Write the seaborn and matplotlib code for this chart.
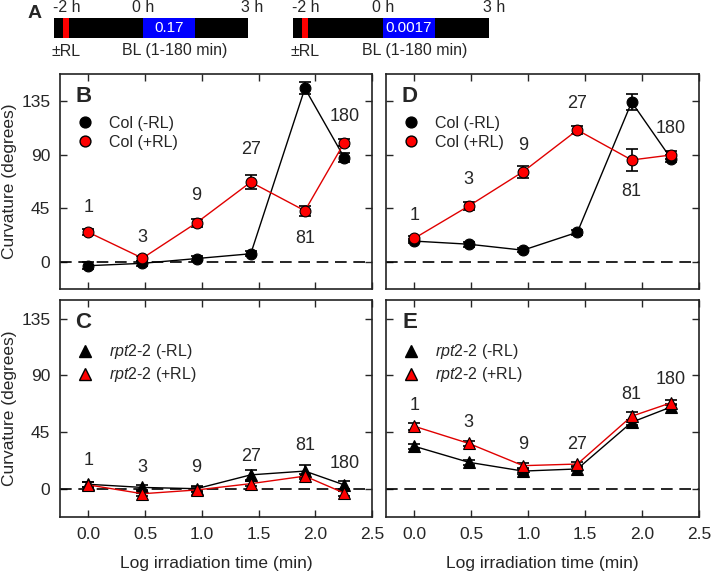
import numpy as np
import matplotlib
matplotlib.use('Agg')
import matplotlib.pyplot as plt
import seaborn as sns
from matplotlib.lines import Line2D

sns.set_style('ticks')
plt.rcParams['font.family'] = ['Liberation Sans', 'DejaVu Sans']
plt.rcParams['mathtext.fontset'] = 'custom'
plt.rcParams['mathtext.it'] = 'Liberation Sans:italic'
plt.rcParams['mathtext.rm'] = 'Liberation Sans'

# irradiation times (min) and log10 positions
minutes = ['1', '3', '9', '27', '81', '180']
log_t = np.log10([1, 3, 9, 27, 81, 180])

# Panel B: Col, 0.17 fluence
b_minus = [-3, -1, 3, 7, 145.5, 87.5]
b_minus_err = [3, 2, 2, 2, 5, 4]
b_plus = [25, 3.3, 33, 67, 43, 100]
b_plus_err = [2.5, 2, 3.5, 6, 4, 3]
b_lab_y = [46, 21, 56, 94, 20, 122]

# Panel D: Col, 0.0017 fluence
d_minus = [17.6, 15, 10, 25, 134, 86.5]
d_minus_err = [2, 2, 1.5, 2, 7, 3]
d_plus = [20, 47, 75.7, 110.6, 85.5, 89.7]
d_plus_err = [2, 3, 5, 3.5, 9, 3]
d_lab_y = [39, 69, 98, 133, 59.5, 112]

# Panel C: rpt2-2, 0.17 fluence
c_minus = [3.5, 1, 0, 11, 14, 3]
c_minus_err = [2, 2, 2, 4, 5, 3]
c_plus = [3, -4, -1, 4, 10, -3.5]
c_plus_err = [2, 2, 2, 2, 2, 2]
c_lab_y = [22.3, 17, 17, 25.5, 34, 20]

# Panel E: rpt2-2, 0.0017 fluence
e_minus = [33.7, 21, 14, 15.7, 52.8, 65]
e_minus_err = [2, 2, 2, 2, 2, 2]
e_plus = [49.6, 36, 18.3, 19.6, 57.6, 68.3]
e_plus_err = [3, 2, 2, 2, 3, 2]
e_lab_y = [66, 53, 35.5, 35.5, 75, 87]

# timeline (hours)
bar_span = (-2.32, 2.74)
rl_span = (-2.08, -1.92)
bl_span = (0.0, 1.35)
fluence = ['0.17', '0.0017']

W, H = 711, 573
fig = plt.figure(figsize=(W / 100, H / 100), dpi=100)


def px_axes(left, top, right, bottom):
    return fig.add_axes([left / W, 1 - bottom / H, (right - left) / W, (bottom - top) / H])


RED = '#ff0000'


def draw_panel(ax, minus, minus_err, plus, plus_err, lab_y, marker, names, letter,
               ylim, show_y, show_x):
    ax.axhline(0, color='black', lw=1.2, ls=(0, (7, 4)), zorder=1)
    ms = 7.8 if marker == 'o' else 9
    for y, err, col, lc in [(minus, minus_err, 'black', 'black'),
                            (plus, plus_err, RED, '#e00000')]:
        ax.errorbar(log_t, y, yerr=err, fmt='none', ecolor='black', elinewidth=1.2,
                    capsize=4, capthick=1.2, zorder=2)
        sns.lineplot(x=log_t, y=y, ax=ax, color=lc, lw=1, marker=marker, markersize=ms,
                     markerfacecolor=col, markeredgecolor='black', markeredgewidth=0.8,
                     zorder=3, estimator=None, sort=False)
    for xv, yv, s in zip(log_t, lab_y, minutes):
        ax.text(xv, yv, s, ha='center', va='center', fontsize=13)
    handles = [Line2D([], [], ls='none', marker=marker, markersize=ms, markerfacecolor='black',
                      markeredgecolor='black'),
               Line2D([], [], ls='none', marker=marker, markersize=ms, markerfacecolor=RED,
                      markeredgecolor='black')]
    ax.legend(handles, names, loc='upper left', bbox_to_anchor=(0.055, 0.805), frameon=False,
              fontsize=11.5, handlelength=1, handletextpad=1.0, borderpad=0,
              borderaxespad=0, labelspacing=0.25)
    ax.text(0.075, 0.895, letter, transform=ax.transAxes, fontsize=16, fontweight='bold',
            ha='center', va='center')
    ax.set_xlim(-0.25, 2.5)
    ax.set_ylim(*ylim)
    ax.set_xticks([0, 0.5, 1.0, 1.5, 2.0, 2.5])
    ax.set_yticks([0, 45, 90, 135])
    ax.tick_params(direction='in', top=True, right=True, length=5, width=1, labelsize=12.5,
                   pad=7)
    if show_x:
        ax.set_xticklabels(['0.0', '0.5', '1.0', '1.5', '2.0', '2.5'])
        ax.set_xlabel('Log irradiation time (min)', fontsize=12.5, labelpad=10)
    else:
        ax.set_xticklabels([])
    if show_y:
        ax.set_ylabel('Curvature (degrees)', fontsize=12.5, labelpad=3)
    else:
        ax.set_yticklabels([])
    for sp in ax.spines.values():
        sp.set_linewidth(1.2)
        sp.set_color('#222222')


col_names = ['Col (-RL)', 'Col (+RL)']
rpt_names = [r'$\it{rpt2}$-$\it{2}$ (-RL)', r'$\it{rpt2}$-$\it{2}$ (+RL)']

ax_b = px_axes(60, 74, 372, 289)
draw_panel(ax_b, b_minus, b_minus_err, b_plus, b_plus_err, b_lab_y, 'o', col_names, 'B',
           (-22.5, 157.5), True, False)
ax_d = px_axes(386, 74, 699, 289)
draw_panel(ax_d, d_minus, d_minus_err, d_plus, d_plus_err, d_lab_y, 'o', col_names, 'D',
           (-22.5, 157.5), False, False)
ax_c = px_axes(60, 300, 372, 517)
draw_panel(ax_c, c_minus, c_minus_err, c_plus, c_plus_err, c_lab_y, '^', rpt_names, 'C',
           (-22.5, 150), True, True)
ax_e = px_axes(386, 300, 699, 517)
draw_panel(ax_e, e_minus, e_minus_err, e_plus, e_plus_err, e_lab_y, '^', rpt_names, 'E',
           (-22.5, 150), False, True)

# timeline bars (panel A)
for left, right, flu in [(54, 248, fluence[0]), (293, 489, fluence[1])]:
    ax_t = px_axes(left, 18, right, 38)
    ax_t.set_facecolor('black')
    ax_t.axvspan(*rl_span, color=RED, lw=0)
    ax_t.axvspan(*bl_span, color='#0000ff', lw=0)
    ax_t.set_xlim(*bar_span)
    ax_t.set_ylim(0, 1)
    ax_t.set_xticks([])
    ax_t.set_yticks([])
    for sp in ax_t.spines.values():
        sp.set_visible(False)
    ax_t.text(sum(bl_span) / 2, 0.5, flu, color='white', ha='center', va='center', fontsize=11)
    for xv, s in [(-2.0, '-2 h'), (0.0, '0 h'), (2.86, '3 h')]:
        ax_t.text(xv, 1.55, s, ha='center', va='center', fontsize=11.5, clip_on=False)
    ax_t.text(-2.0, -0.65, '±RL', ha='center', va='center', fontsize=11.5, clip_on=False)
    ax_t.text(0.82, -0.65, 'BL (1-180 min)', ha='center', va='center', fontsize=11.5,
              clip_on=False)

fig.text(35 / W, 1 - 13 / H, 'A', fontsize=14, fontweight='bold', ha='center', va='center')

fig.savefig('out.png', dpi=100)
